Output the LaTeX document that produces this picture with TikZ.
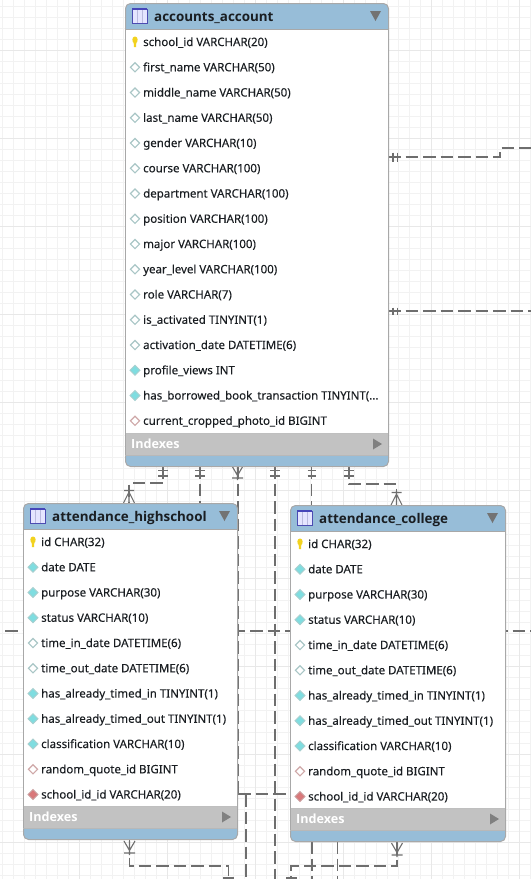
\documentclass[tikz,border=0pt]{standalone}
\usepackage{fontspec}
\setmainfont{Noto Sans}
\newfontfamily\rowfont{Noto Sans}[FakeBold=0.12]
\newfontfamily\headfont{Open Sans}[UprightFont=* Bold]
\usetikzlibrary{calc}
\definecolor{hdr}{HTML}{97BDD8}
\definecolor{idx}{HTML}{C2C2C2}
\definecolor{edge}{HTML}{A8A8A8}
\definecolor{lnk}{HTML}{6E6E6E}
\definecolor{ink}{HTML}{1A1E22}
\definecolor{wedge}{HTML}{A9C6C6}
\definecolor{tfill}{HTML}{7FDDE0}
\definecolor{tedge}{HTML}{A9CFCF}
\definecolor{pedge}{HTML}{CFA8A8}
\definecolor{rfill}{HTML}{D9787A}
\definecolor{redge}{HTML}{C9A0A0}
\definecolor{keyc}{HTML}{F2D21E}
\tikzset{
  x=1pt,y=-1pt,
  tablebox/.style={draw=edge,line width=1pt,fill=hdr,rounded corners=5pt,inner sep=0pt,anchor=north west},
  rowtext/.style={anchor=base west,inner sep=0pt,text=ink,font=\rowfont\fontsize{11.5}{13}\selectfont},
  titletext/.style={anchor=base west,inner sep=0pt,text=ink,font=\headfont\fontsize{13.4}{16}\selectfont},
  idxtext/.style={anchor=base west,inner sep=0pt,text=white,font=\headfont\fontsize{12.6}{14}\selectfont},
  link/.style={draw=lnk,line width=1.2pt,dash pattern=on 12.5pt off 5pt},
  tick/.style={draw=lnk,line width=1.1pt},
  minor/.style={draw=black!5,line width=.9pt},
  major/.style={draw=black!9,line width=.9pt},
}
\newcommand{\crowdown}[2]{% foot opening downward; apex above
  \draw[tick] (#1-5,#2+1.5)--(#1+5,#2+1.5) (#1,#2)--(#1,#2+14) (#1,#2+3)--(#1-5.5,#2+14) (#1,#2+3)--(#1+5.5,#2+14);}
\newcommand{\crowup}[2]{% foot opening upward; feet at y=#2
  \draw[tick] (#1-5.5,#2)--(#1,#2+9.5)--(#1+5.5,#2) (#1,#2)--(#1,#2+14) (#1-5.5,#2+12)--(#1+5.5,#2+12);}
\newcommand{\twoticks}[2]{%
  \draw[tick] (#1-5,#2+4.5)--(#1+5,#2+4.5) (#1-5,#2+10)--(#1+5,#2+10) (#1,#2)--(#1,#2+10);}
\newcommand{\icon}[3]{%
  \if#1k
    \fill[keyc] (#2,#3-5.5) .. controls (#2+3.5,#3-5.5) and (#2+3,#3) .. (#2+1.3,#3+1) -- (#2+1,#3+5) -- (#2-1,#3+5) -- (#2-1.3,#3+1) .. controls (#2-3,#3) and (#2-3.5,#3-5.5) .. (#2,#3-5.5) -- cycle;
  \else\if#1w
    \draw[draw=wedge,fill=white,line width=1.2pt] (#2-4.6,#3)--(#2,#3-4.6)--(#2+4.6,#3)--(#2,#3+4.6)--cycle;
  \else\if#1t
    \draw[draw=tedge,fill=tfill,line width=.8pt] (#2-5,#3)--(#2,#3-5)--(#2+5,#3)--(#2,#3+5)--cycle;
  \else\if#1p
    \draw[draw=pedge,fill=white,line width=1.2pt] (#2-4.6,#3)--(#2,#3-4.6)--(#2+4.6,#3)--(#2,#3+4.6)--cycle;
  \else
    \draw[draw=redge,fill=rfill,line width=.8pt] (#2-5,#3)--(#2,#3-5)--(#2+5,#3)--(#2,#3+5)--cycle;
  \fi\fi\fi\fi}
% name, x1, y1, x2, y2, title, rows
\newcommand{\ertable}[7]{%
  \pgfmathsetmacro{\tw}{#4-#2}\pgfmathsetmacro{\th}{#5-#3}
  \node[tablebox,minimum width=\tw pt,minimum height=\th pt] (#1) at (#2,#3) {};
  \fill[white] (#2+.5,#3+26) rectangle (#4-.5,#5-33);
  \fill[idx] (#2+.5,#5-33) rectangle (#4-.5,#5-11);
  \draw[edge,line width=1pt] (#2,#3+26)--(#4,#3+26);
  \draw[black!25,line width=.8pt] (#2,#5-33)--(#4,#5-33);
  \draw[black!28,line width=.8pt] (#2,#5-11)--(#4,#5-11);
  \draw[edge,line width=1pt] (#2,#3+26)--(#2,#5-11) (#4,#3+26)--(#4,#5-11);
  % table icon
  \draw[draw=blue!40!gray,fill=blue!10!white,line width=1pt] (#2+7,#3+6) rectangle (#2+22,#3+20);
  \fill[blue!45!gray] (#2+7,#3+5) rectangle (#2+22,#3+7);
  \draw[blue!35!gray!40,line width=.5pt] (#2+12,#3+7)--(#2+12,#3+20) (#2+17,#3+7)--(#2+17,#3+20);
  \fill[black!55] (#4-18,#3+8)--(#4-7,#3+8)--(#4-12.5,#3+18)--cycle;
  \fill[black!50] (#4-15,#5-27.5)--(#4-15,#5-16.5)--(#4-6,#5-22)--cycle;
  \node[titletext] (#1-title) at (#2+29,#3+18.5) {#6};
  \node[idxtext] (#1-indexes) at (#2+6,#5-18) {Indexes};
  \foreach \kind/\txt [count=\n from 0] in {#7}{
    \pgfmathsetmacro{\ry}{#3+39+\n*25.25}
    \icon{\kind}{#2+10}{\ry}
    \node[rowtext] (#1-\n) at (#2+18,\ry+4) {\txt};
  }
}
\begin{document}
\begin{tikzpicture}
\useasboundingbox (0,0) rectangle (531,879);
\fill[white] (0,0) rectangle (531,879);
% grid
\foreach \i in {0,...,48}{\draw[minor] (2.5+11*\i,0)--(2.5+11*\i,879);}
\foreach \i in {0,...,79}{\draw[minor] (0,6.7+11*\i)--(531,6.7+11*\i);}
\foreach \i in {0,...,5}{\draw[major] (79.3+88*\i,0)--(79.3+88*\i,879);}
\foreach \i in {0,...,9}{\draw[major] (0,50.7+88*\i)--(531,50.7+88*\i);}
% anchors for the connector ends
\coordinate (aS1) at (163,466); \coordinate (aS2) at (200,466); \coordinate (aS3) at (238,466);
\coordinate (aS4) at (275,466); \coordinate (aS5) at (311.5,466); \coordinate (aS6) at (349,466);
\coordinate (aE1) at (388,157); \coordinate (aE2) at (388,311);
\coordinate (hN1) at (129,503); \coordinate (hN2) at (200,503);
\coordinate (cN1) at (311.5,505); \coordinate (cN2) at (396.5,505);
\coordinate (hS) at (129.5,840); \coordinate (cS) at (397,842);
\coordinate (hE) at (238,794); \coordinate (cW) at (290,794);
\coordinate (hW) at (5,631); \coordinate (cE) at (531,631);
\coordinate (bot1) at (228.5,879); \coordinate (bot2) at (246,879); \coordinate (bot3) at (275,879);
\coordinate (bot4) at (291,879); \coordinate (bot5) at (312,879); \coordinate (bot6) at (337.5,879);
\coordinate (cS1) at (312,841); \coordinate (cS2) at (337.5,841);
\coordinate (rT) at (531,148); \coordinate (rB) at (531,311);
% connectors
\draw[link] (aE1) -- ++(112,0) -- ++(0,-9) -- (rT);
\draw[link] (aE2) -- (rB);
\draw[tick] (388,157)--(391,157) (393,152.5)--(393,161.5) (397.5,152.5)--(397.5,161.5);
\draw[tick] (388,311)--(398,311) (393,307.5)--(393,314.5) (397.5,307.5)--(397.5,314.5);
\draw[link] (aS1) -- ++(0,17) -- ++(-34,0) -- (hN1);
\draw[link] (aS2) -- (hN2);
\draw[link] (aS3) -- (hE);
\draw[link] (aS4) -- (bot3);
\draw[link] (aS5) -- (cN1);
\draw[link] (aS6) -- ++(0,18) -- ++(47.5,0) -- (cN2);
\draw[link] (hW) -- (cE);
\draw[link] (hE) -- (cW);
\draw[link] (246,794) -- (bot2);
\draw[link] (hS) -- ++(0,26) -- ++(99,0) -- (bot1);
\draw[link] (cS) -- ++(0,24) -- ++(-106,0) -- (bot4);
\draw[link] (cS1) -- (bot5);
\draw[link] (cS2) -- (bot6);
\twoticks{163}{466}
\twoticks{200}{466}
\twoticks{275}{466}
\draw[tick] (307.5,470.5)--(315.5,470.5) (307.5,476)--(315.5,476) (311.5,466)--(311.5,476);
\twoticks{349}{466}
\crowup{237.5}{466}
\crowdown{129}{489}
\crowdown{396.5}{491}
\crowup{129.5}{841}
\crowup{397}{843}
\draw[tick] (223,878)--(234,878);
\draw[tick] (286,878)--(297,878);
% tables
\ertable{acc}{125}{3}{388}{466}{accounts\_account}{k/{school\_id VARCHAR(20)},w/{first\_name VARCHAR(50)},w/{middle\_name VARCHAR(50)},w/{last\_name VARCHAR(50)},w/{gender VARCHAR(10)},w/{course VARCHAR(100)},w/{department VARCHAR(100)},w/{position VARCHAR(100)},w/{major VARCHAR(100)},w/{year\_level VARCHAR(100)},w/{role VARCHAR(7)},w/{is\_activated TINYINT(1)},w/{activation\_date DATETIME(6)},t/{profile\_views INT},t/{has\_borrowed\_book\_transaction TINYINT(...},p/{current\_cropped\_photo\_id BIGINT}}
\ertable{hs}{23}{503}{237}{839}{attendance\_highschool}{k/{id CHAR(32)},t/{date DATE},t/{purpose VARCHAR(30)},t/{status VARCHAR(10)},w/{time\_in\_date DATETIME(6)},w/{time\_out\_date DATETIME(6)},t/{has\_already\_timed\_in TINYINT(1)},t/{has\_already\_timed\_out TINYINT(1)},t/{classification VARCHAR(10)},p/{random\_quote\_id BIGINT},r/{school\_id\_id VARCHAR(20)}}
\ertable{col}{290}{505}{505}{841}{attendance\_college}{k/{id CHAR(32)},t/{date DATE},t/{purpose VARCHAR(30)},t/{status VARCHAR(10)},w/{time\_in\_date DATETIME(6)},w/{time\_out\_date DATETIME(6)},t/{has\_already\_timed\_in TINYINT(1)},t/{has\_already\_timed\_out TINYINT(1)},t/{classification VARCHAR(10)},p/{random\_quote\_id BIGINT},r/{school\_id\_id VARCHAR(20)}}
\end{tikzpicture}
\end{document}
